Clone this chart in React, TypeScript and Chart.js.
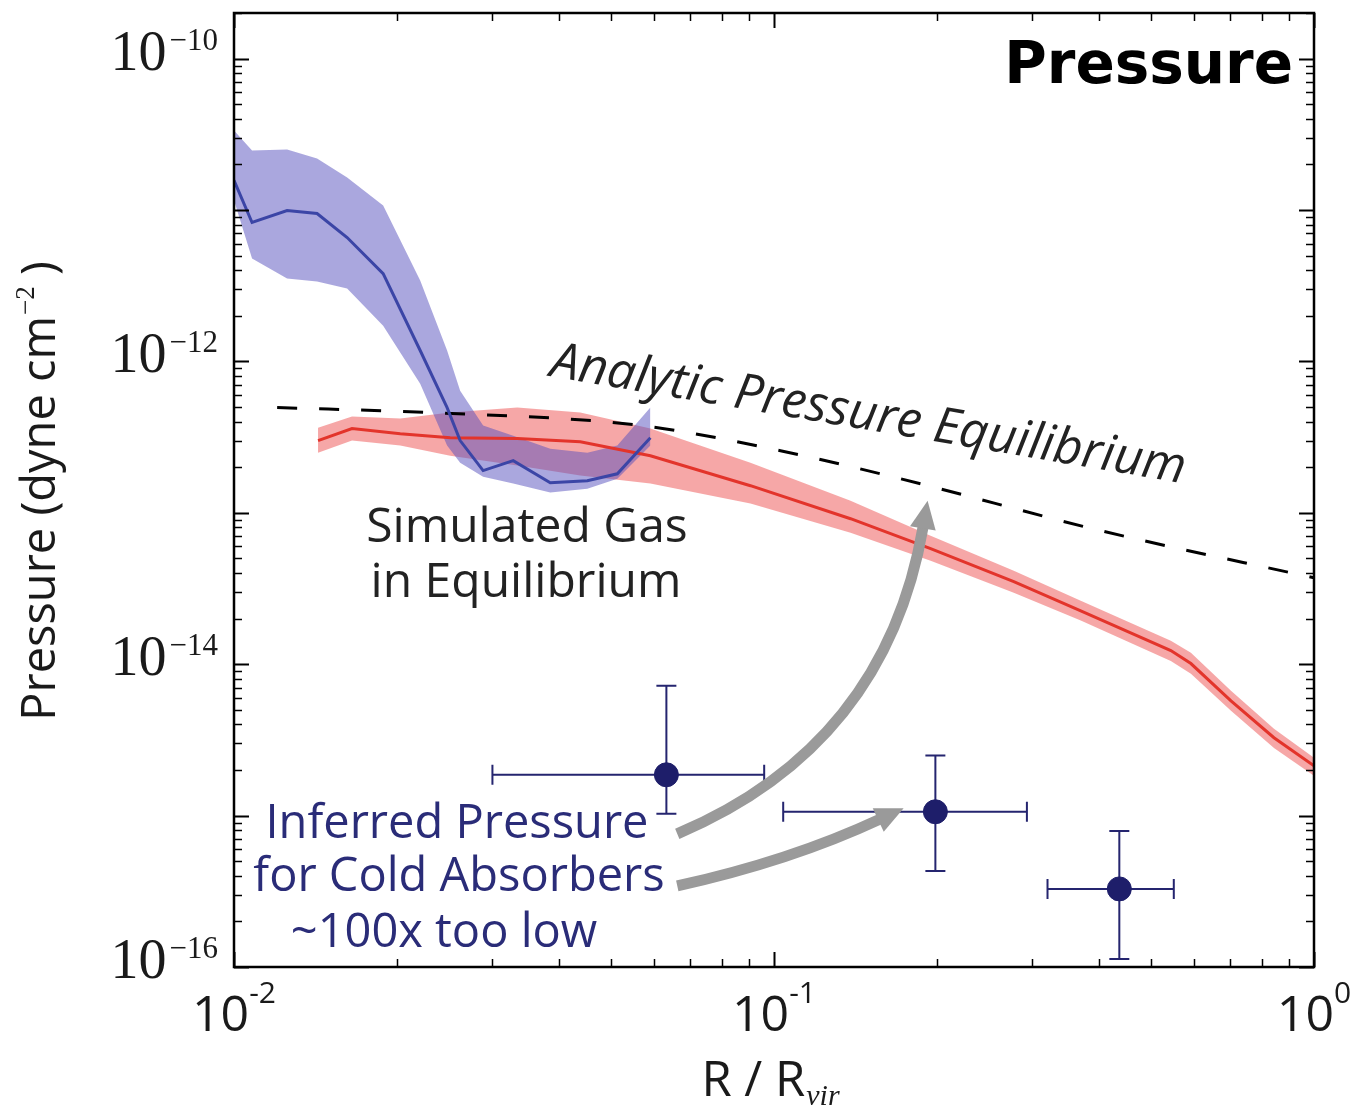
import { useEffect, useRef } from "react";
import { Chart, registerables } from "chart.js";

Chart.register(...registerables);

const W = 1358;
const H = 1112;

// Simulated hot gas (red): radius in R/Rvir, median pressure and spread (dyne cm^-2)
const hotRadius = [0.01431, 0.01654, 0.02032, 0.02514, 0.03346, 0.04378, 0.05903, 0.09045, 0.1386, 0.195, 0.278, 0.3699, 0.5431, 0.5916, 0.7019, 0.8431, 1.0];
const hotPressure = [3.0e-13, 3.6e-13, 3.33e-13, 3.13e-13, 3.09e-13, 2.95e-13, 2.38e-13, 1.51e-13, 9.14e-14, 5.79e-14, 3.51e-14, 2.25e-14, 1.23e-14, 1.01e-14, 5.73e-15, 3.27e-15, 2.13e-15];
const hotUpper = [3.65e-13, 4.32e-13, 4.19e-13, 4.59e-13, 4.95e-13, 4.59e-13, 3.6e-13, 2.14e-13, 1.2e-13, 7.06e-14, 4.14e-14, 2.62e-14, 1.43e-14, 1.19e-14, 6.67e-15, 3.74e-15, 2.41e-15];
const hotLower = [2.49e-13, 3.0e-13, 2.78e-13, 2.38e-13, 2.05e-13, 1.76e-13, 1.56e-13, 1.15e-13, 7.38e-14, 4.82e-14, 2.96e-14, 1.94e-14, 1.05e-14, 8.64e-15, 4.92e-15, 2.8e-15, 1.83e-15];

// Simulated cold gas (blue)
const coldRadius = [0.01, 0.0108, 0.01254, 0.01425, 0.0162, 0.01889, 0.02212, 0.02481, 0.02623, 0.02893, 0.03289, 0.03852, 0.04511, 0.05127, 0.05903];
const coldPressure = [1.57e-11, 8.27e-12, 9.92e-12, 9.48e-12, 6.58e-12, 3.8e-12, 1.18e-12, 4.95e-13, 3.0e-13, 1.9e-13, 2.21e-13, 1.58e-13, 1.63e-13, 1.81e-13, 3.13e-13];
const coldUpper = [3.35e-11, 2.47e-11, 2.51e-11, 2.19e-11, 1.64e-11, 1.07e-11, 3.42e-12, 1.18e-12, 6.41e-13, 3.77e-13, 3.23e-13, 2.65e-13, 2.49e-13, 2.78e-13, 4.95e-13];
const coldLower = [1.16e-11, 4.78e-12, 3.53e-12, 3.37e-12, 3.03e-12, 1.72e-12, 7.13e-13, 2.78e-13, 2.14e-13, 1.73e-13, 1.56e-13, 1.36e-13, 1.44e-13, 1.68e-13, 2.78e-13];

// Analytic pressure equilibrium curve
const eqRadius = [0.01202, 0.02308, 0.05662, 0.1028, 0.1714, 0.4027, 1.0];
const eqPressure = [4.95e-13, 4.59e-13, 3.77e-13, 2.57e-13, 1.68e-13, 7.62e-14, 3.72e-14];

// Inferred pressures of cold absorbers with error ranges
const absRadius = [0.0632, 0.199, 0.436];
const absRadiusLo = [0.0301, 0.104, 0.321];
const absRadiusHi = [0.0959, 0.294, 0.55];
const absPressure = [1.86e-15, 1.06e-15, 3.28e-16];
const absPressureLo = [1.03e-15, 4.3e-16, 1.13e-16];
const absPressureHi = [7.2e-15, 2.49e-15, 7.9e-16];

// Tick decades
const xTickExps = [-2, -1, 0];
const yTickExps = [-16, -14, -12, -10];

// Curved annotation arrows: start, control, tip (data coordinates)
const arrowUp = [
  [0.0662, 7.57e-16],
  [0.1609, 2.89e-15],
  [0.1925, 1.2e-13],
];
const arrowRight = [
  [0.0662, 3.43e-16],
  [0.1073, 5.02e-16],
  [0.1738, 1.12e-15],
];

const pts = (xs: number[], ys: number[]) => xs.map((x, i) => ({ x, y: ys[i] }));

const SANS = '"Open Sans", "DejaVu Sans", sans-serif';
const SERIF = '"Liberation Serif", "DejaVu Serif", serif';

function drawArrow(ctx: CanvasRenderingContext2D, p: { x: number; y: number }[]) {
  const [p0, p1, p2] = p;
  const dx = p2.x - p1.x;
  const dy = p2.y - p1.y;
  const len = Math.hypot(dx, dy);
  const ux = dx / len;
  const uy = dy / len;
  const headLen = 28;
  const headHalf = 13;
  const bx = p2.x - ux * headLen;
  const by = p2.y - uy * headLen;
  ctx.save();
  ctx.strokeStyle = "#9a9a9a";
  ctx.fillStyle = "#9a9a9a";
  ctx.lineWidth = 11;
  ctx.lineCap = "butt";
  ctx.beginPath();
  ctx.moveTo(p0.x, p0.y);
  ctx.quadraticCurveTo(p1.x, p1.y, bx + ux * 2, by + uy * 2);
  ctx.stroke();
  ctx.beginPath();
  ctx.moveTo(p2.x, p2.y);
  ctx.lineTo(bx - uy * headHalf, by + ux * headHalf);
  ctx.lineTo(bx + uy * headHalf, by - ux * headHalf);
  ctx.closePath();
  ctx.fill();
  ctx.restore();
}

const overlayPlugin = {
  id: "overlay",
  beforeDraw(chart: any) {
    const ctx = chart.ctx as CanvasRenderingContext2D;
    ctx.save();
    ctx.fillStyle = "#ffffff";
    ctx.fillRect(0, 0, chart.width, chart.height);
    ctx.restore();
  },
  beforeDatasetsDraw(chart: any) {
    const ctx = chart.ctx as CanvasRenderingContext2D;
    const xs = chart.scales.x;
    const ys = chart.scales.y;
    ctx.save();
    ctx.strokeStyle = "#25256f";
    ctx.lineWidth = 2;
    const cap = 10;
    absRadius.forEach((r, i) => {
      const px = xs.getPixelForValue(r);
      const py = ys.getPixelForValue(absPressure[i]);
      const x0 = xs.getPixelForValue(absRadiusLo[i]);
      const x1 = xs.getPixelForValue(absRadiusHi[i]);
      const y0 = ys.getPixelForValue(absPressureLo[i]);
      const y1 = ys.getPixelForValue(absPressureHi[i]);
      ctx.beginPath();
      ctx.moveTo(x0, py);
      ctx.lineTo(x1, py);
      ctx.moveTo(x0, py - cap);
      ctx.lineTo(x0, py + cap);
      ctx.moveTo(x1, py - cap);
      ctx.lineTo(x1, py + cap);
      ctx.moveTo(px, y0);
      ctx.lineTo(px, y1);
      ctx.moveTo(px - cap, y0);
      ctx.lineTo(px + cap, y0);
      ctx.moveTo(px - cap, y1);
      ctx.lineTo(px + cap, y1);
      ctx.stroke();
    });
    ctx.restore();
  },
  afterDraw(chart: any) {
    const ctx = chart.ctx as CanvasRenderingContext2D;
    const xs = chart.scales.x;
    const ys = chart.scales.y;
    const { left, right, top, bottom } = chart.chartArea;

    // arrows
    const toPx = (a: number[][]) => a.map(([x, y]) => ({ x: xs.getPixelForValue(x), y: ys.getPixelForValue(y) }));
    drawArrow(ctx, toPx(arrowUp));
    drawArrow(ctx, toPx(arrowRight));

    ctx.save();
    // ticks (inward, all four sides)
    ctx.strokeStyle = "#000";
    for (let d = -2; d <= 0; d++) {
      for (let m = 1; m <= 9; m++) {
        const v = m * Math.pow(10, d);
        if (v < 0.01 - 1e-12 || v > 1 + 1e-12) continue;
        const px = Math.round(xs.getPixelForValue(v)) + 0.5;
        const len = m === 1 ? 15 : 8;
        ctx.lineWidth = m === 1 ? 2 : 1.5;
        ctx.beginPath();
        ctx.moveTo(px, bottom);
        ctx.lineTo(px, bottom - len);
        ctx.moveTo(px, top);
        ctx.lineTo(px, top + len);
        ctx.stroke();
      }
    }
    const yMax = ys.max;
    for (let d = -16; d <= -10; d++) {
      for (let m = 1; m <= 9; m++) {
        const v = m * Math.pow(10, d);
        if (v > yMax) continue;
        const py = Math.round(ys.getPixelForValue(v)) + 0.5;
        const len = m === 1 ? 15 : 8;
        ctx.lineWidth = m === 1 ? 2 : 1.5;
        ctx.beginPath();
        ctx.moveTo(left, py);
        ctx.lineTo(left + len, py);
        ctx.moveTo(right, py);
        ctx.lineTo(right - len, py);
        ctx.stroke();
      }
    }
    // frame
    ctx.lineWidth = 2.5;
    ctx.strokeRect(left, top, right - left, bottom - top);

    // y tick labels
    ctx.fillStyle = "#1a1a1a";
    ctx.textBaseline = "alphabetic";
    ctx.textAlign = "left";
    yTickExps.forEach((e) => {
      const py = ys.getPixelForValue(Math.pow(10, e));
      const expText = "\u2212" + Math.abs(e);
      ctx.font = `56px ${SERIF}`;
      const wb = ctx.measureText("10").width;
      ctx.font = `31px ${SERIF}`;
      const we = ctx.measureText(expText).width;
      const xRight = left - 16;
      const ex = xRight - we;
      const bx = ex - 3 - wb;
      ctx.font = `56px ${SERIF}`;
      ctx.fillText("10", bx, py + 11);
      ctx.font = `31px ${SERIF}`;
      ctx.fillText(expText, ex, py - 9);
    });

    // x tick labels
    xTickExps.forEach((e) => {
      const px = xs.getPixelForValue(Math.pow(10, e));
      const expText = e < 0 ? "-" + Math.abs(e) : "0";
      ctx.font = `50px ${SANS}`;
      const wb = ctx.measureText("10").width;
      ctx.font = `30px ${SANS}`;
      const we = ctx.measureText(expText).width;
      const start = px - (wb + we) / 2;
      ctx.font = `50px ${SANS}`;
      ctx.fillText("10", start, 1031);
      ctx.font = `30px ${SANS}`;
      ctx.fillText(expText, start + wb, 1003);
    });

    // x axis title: R / R_vir
    {
      ctx.font = `49px ${SANS}`;
      const w1 = ctx.measureText("R / R").width;
      ctx.font = `italic 30px ${SERIF}`;
      const w2 = ctx.measureText("vir").width;
      const cx = (left + right) / 2 - 4;
      const start = cx - (w1 + w2) / 2;
      ctx.font = `49px ${SANS}`;
      ctx.fillText("R / R", start, 1096);
      ctx.font = `italic 30px ${SERIF}`;
      ctx.fillText("vir", start + w1 + 1, 1105);
    }

    // y axis title: Pressure (dyne cm^-2)
    {
      ctx.save();
      ctx.translate(55, 491);
      ctx.rotate(-Math.PI / 2);
      const a = "Pressure (dyne cm";
      const sup = "\u22122";
      const b = " )";
      ctx.font = `47px ${SANS}`;
      const wa = ctx.measureText(a).width;
      const wbb = ctx.measureText(b).width;
      ctx.font = `27px ${SERIF}`;
      const ws = ctx.measureText(sup).width;
      const total = wa + ws + wbb;
      let x = -total / 2;
      ctx.font = `47px ${SANS}`;
      ctx.fillText(a, x, 0);
      x += wa;
      ctx.font = `27px ${SERIF}`;
      ctx.fillText(sup, x + 1, -21);
      x += ws;
      ctx.font = `47px ${SANS}`;
      ctx.fillText(b, x, 0);
      ctx.restore();
    }

    // panel title
    ctx.fillStyle = "#000";
    ctx.font = `bold 58px "DejaVu Sans", ${SANS}`;
    ctx.textAlign = "right";
    ctx.fillText("Pressure", 1293, 83);

    // gas annotation
    ctx.textAlign = "center";
    ctx.fillStyle = "#222";
    ctx.font = `48px ${SANS}`;
    ctx.fillText("Simulated Gas", 527, 542);
    ctx.fillText("in Equilibrium", 526, 597);

    // absorber annotation
    ctx.fillStyle = "#2a2c78";
    ctx.font = `47px ${SANS}`;
    ctx.fillText("Inferred Pressure", 457, 838);
    ctx.fillText("for Cold Absorbers", 459, 891);
    ctx.fillText("~100x too low", 444, 947);

    // analytic curve label
    ctx.save();
    ctx.fillStyle = "#222";
    ctx.textAlign = "left";
    ctx.translate(549, 376);
    ctx.rotate(Math.atan2(107, 633));
    ctx.font = `italic 50px ${SANS}`;
    ctx.fillText("Analytic Pressure Equilibrium", 0, 0);
    ctx.restore();

    ctx.restore();
  },
};

export default function App() {
  const canvasRef = useRef<HTMLCanvasElement | null>(null);

  useEffect(() => {
    document.body.style.margin = "0";
    const canvas = canvasRef.current;
    if (!canvas) return;
    const none = "rgba(0,0,0,0)";
    const chart = new Chart(canvas, {
      type: "line",
      data: {
        datasets: [
          {
            label: "hot upper",
            data: pts(hotRadius, hotUpper),
            borderColor: none,
            borderWidth: 0,
            pointRadius: 0,
            fill: false,
            order: 6,
          },
          {
            label: "hot lower",
            data: pts(hotRadius, hotLower),
            borderColor: none,
            borderWidth: 0,
            pointRadius: 0,
            fill: "-1",
            backgroundColor: "rgba(235,60,60,0.45)",
            order: 5,
          },
          {
            label: "cold upper",
            data: pts(coldRadius, coldUpper),
            borderColor: none,
            borderWidth: 0,
            pointRadius: 0,
            fill: false,
            order: 4,
          },
          {
            label: "cold lower",
            data: pts(coldRadius, coldLower),
            borderColor: none,
            borderWidth: 0,
            pointRadius: 0,
            fill: "-1",
            backgroundColor: "rgba(85,80,190,0.5)",
            order: 3,
          },
          {
            label: "Analytic Pressure Equilibrium",
            data: pts(eqRadius, eqPressure),
            borderColor: "#000",
            borderWidth: 3,
            borderDash: [20, 22],
            pointRadius: 0,
            fill: false,
            cubicInterpolationMode: "monotone",
            order: 2,
          },
          {
            label: "hot gas",
            data: pts(hotRadius, hotPressure),
            borderColor: "#e3342b",
            borderWidth: 3,
            pointRadius: 0,
            fill: false,
            order: 1,
          },
          {
            label: "cold gas",
            data: pts(coldRadius, coldPressure),
            borderColor: "#3b45a6",
            borderWidth: 3,
            pointRadius: 0,
            fill: false,
            order: 0,
          },
          {
            type: "scatter",
            label: "absorbers",
            data: pts(absRadius, absPressure),
            backgroundColor: "#1e1e6a",
            borderColor: "#1e1e6a",
            pointRadius: 12,
            borderWidth: 1,
            order: -1,
          } as any,
        ],
      },
      options: {
        responsive: false,
        devicePixelRatio: 1,
        animation: false,
        layout: { padding: { left: 234, right: 44, top: 13, bottom: 145 } },
        scales: {
          x: { type: "logarithmic", min: 0.01, max: 1, display: false },
          y: { type: "logarithmic", min: 1e-16, max: 2e-10, display: false },
        },
        plugins: {
          legend: { display: false },
          tooltip: { enabled: false },
        },
        elements: { line: { tension: 0 } },
      },
      plugins: [overlayPlugin],
    });
    return () => chart.destroy();
  }, []);

  return (
    <div style={{ position: "absolute", left: 0, top: 0, width: W, height: H, background: "#fff" }}>
      <canvas ref={canvasRef} width={W} height={H} style={{ width: W, height: H, display: "block" }} />
    </div>
  );
}
